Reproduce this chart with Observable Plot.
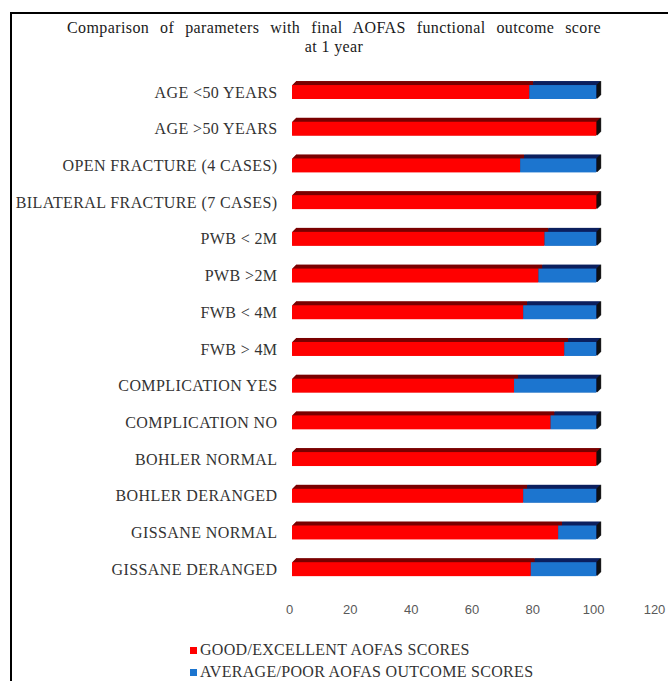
<!DOCTYPE html>
<html>
<head>
<meta charset="utf-8">
<script src="https://cdn.jsdelivr.net/npm/d3@7"></script>
<script src="https://cdn.jsdelivr.net/npm/@observablehq/plot@0.6"></script>
<style>
  html, body { margin: 0; padding: 0; background: #fff; }
  #wrap { position: relative; width: 668px; height: 681px; overflow: hidden; background: #fff; }
  #title { margin-top: 12px; margin-left: 10px; border-top: 2px solid #000; height: 38px; padding-top: 4px; padding-right: 10px;
           text-align: center; font-family: "Liberation Serif", "Times New Roman", serif;
           font-size: 16px; line-height: 19px; color: #1a1a1a; letter-spacing: 0.4px; }
  #title .l1 { word-spacing: 6.5px; }
  #chart svg { display: block; }
  #chart [aria-label="y-axis tick label"] text { letter-spacing: 0.4px; }
  #legend { padding-top: 20px; padding-left: 190px; font-family: "Liberation Serif", "Times New Roman", serif;
            font-size: 16px; line-height: 22px; color: #333; letter-spacing: 0.3px; }
  #legend .sw { display: inline-block; width: 7px; height: 7px; margin-right: 3px; vertical-align: 1px; }
  #fleft { position: absolute; left: 10px; top: 12px; width: 2px; height: 669px; background: #000; z-index: 10; }
  #mask { position: absolute; left: 0; top: 0; width: 10px; height: 681px; background: #fff; z-index: 9; }
</style>
</head>
<body>
<div id="wrap">
  <div id="title"><span class="l1">Comparison of parameters with final AOFAS functional outcome score</span><br>at 1 year</div>
  <div id="chart"></div>
  <div id="legend"></div>
  <div id="mask"></div>
  <div id="fleft"></div>
</div>
<script>
const categories = [
  "AGE <50 YEARS",
  "AGE >50 YEARS",
  "OPEN FRACTURE (4 CASES)",
  "BILATERAL FRACTURE (7 CASES)",
  "PWB < 2M",
  "PWB >2M",
  "FWB < 4M",
  "FWB > 4M",
  "COMPLICATION YES",
  "COMPLICATION NO",
  "BOHLER NORMAL",
  "BOHLER DERANGED",
  "GISSANE NORMAL",
  "GISSANE DERANGED"
];
const goodScores = [78, 100, 75, 100, 83, 81, 76, 89.5, 73, 85, 100, 76, 87.5, 78.5];
const poorScores = [22, 0, 25, 0, 17, 19, 24, 10.5, 27, 15, 0, 24, 12.5, 21.5];
const seriesNames = ["GOOD/EXCELLENT AOFAS SCORES", "AVERAGE/POOR AOFAS OUTCOME SCORES"];
const faceColors = ["#ff0000", "#1c75cf"];
const topColors = ["#7a0000", "#0b1f5e"];
const xTicks = [0, 20, 40, 60, 80, 100, 120];

const data = [];
categories.forEach((c, i) => {
  data.push({cat: c, series: seriesNames[0], value: goodScores[i]});
  data.push({cat: c, series: seriesNames[1], value: poorScores[i]});
});
const totals = categories.map((c, i) => ({cat: c, total: goodScores[i] + poorScores[i]}));

const depth = [];
for (let k = 0.5; k <= 4; k += 0.5) depth.push(k);

const marks = [];
for (const k of depth) {
  marks.push(Plot.barX(data, {
    x: "value", y: "cat", order: (d) => seriesNames.indexOf(d.series),
    fill: (d) => topColors[seriesNames.indexOf(d.series)],
    dx: k, dy: -k
  }));
}
for (const k of depth) {
  marks.push(Plot.tickX(totals, {x: "total", y: "cat", stroke: "#111", strokeWidth: 1, dx: k, dy: -k}));
}
marks.push(Plot.barX(data, {
  x: "value", y: "cat", order: (d) => seriesNames.indexOf(d.series),
  fill: (d) => faceColors[seriesNames.indexOf(d.series)]
}));
marks.push(Plot.axisX({anchor: "bottom", ticks: xTicks, tickSize: 0, tickPadding: 5, dx: -3, label: null,
  fontSize: 13, fontFamily: "Liberation Sans, Arial, sans-serif", fill: "#595959", tickFormat: d3.format("d")}));
marks.push(Plot.axisY({anchor: "left", tickSize: 0, tickPadding: 15, fontSize: 16, label: null,
  fontFamily: "Liberation Serif, Times New Roman, serif", fill: "#333"}));

const chart = Plot.plot({
  width: 668,
  height: 563,
  marginLeft: 292,
  marginRight: 11,
  marginTop: 0,
  marginBottom: 20,
  x: {domain: [0, 120], axis: null},
  y: {domain: categories, padding: 0.62, range: [6.3, 542.9], round: false, axis: null},
  style: {background: "transparent", overflow: "visible"},
  marks
});
document.getElementById("chart").appendChild(chart);

const legend = document.getElementById("legend");
seriesNames.forEach((s, i) => {
  const row = document.createElement("div");
  const sw = document.createElement("span");
  sw.className = "sw";
  sw.style.background = faceColors[i];
  row.appendChild(sw);
  row.appendChild(document.createTextNode(s));
  legend.appendChild(row);
});
</script>
</body>
</html>
